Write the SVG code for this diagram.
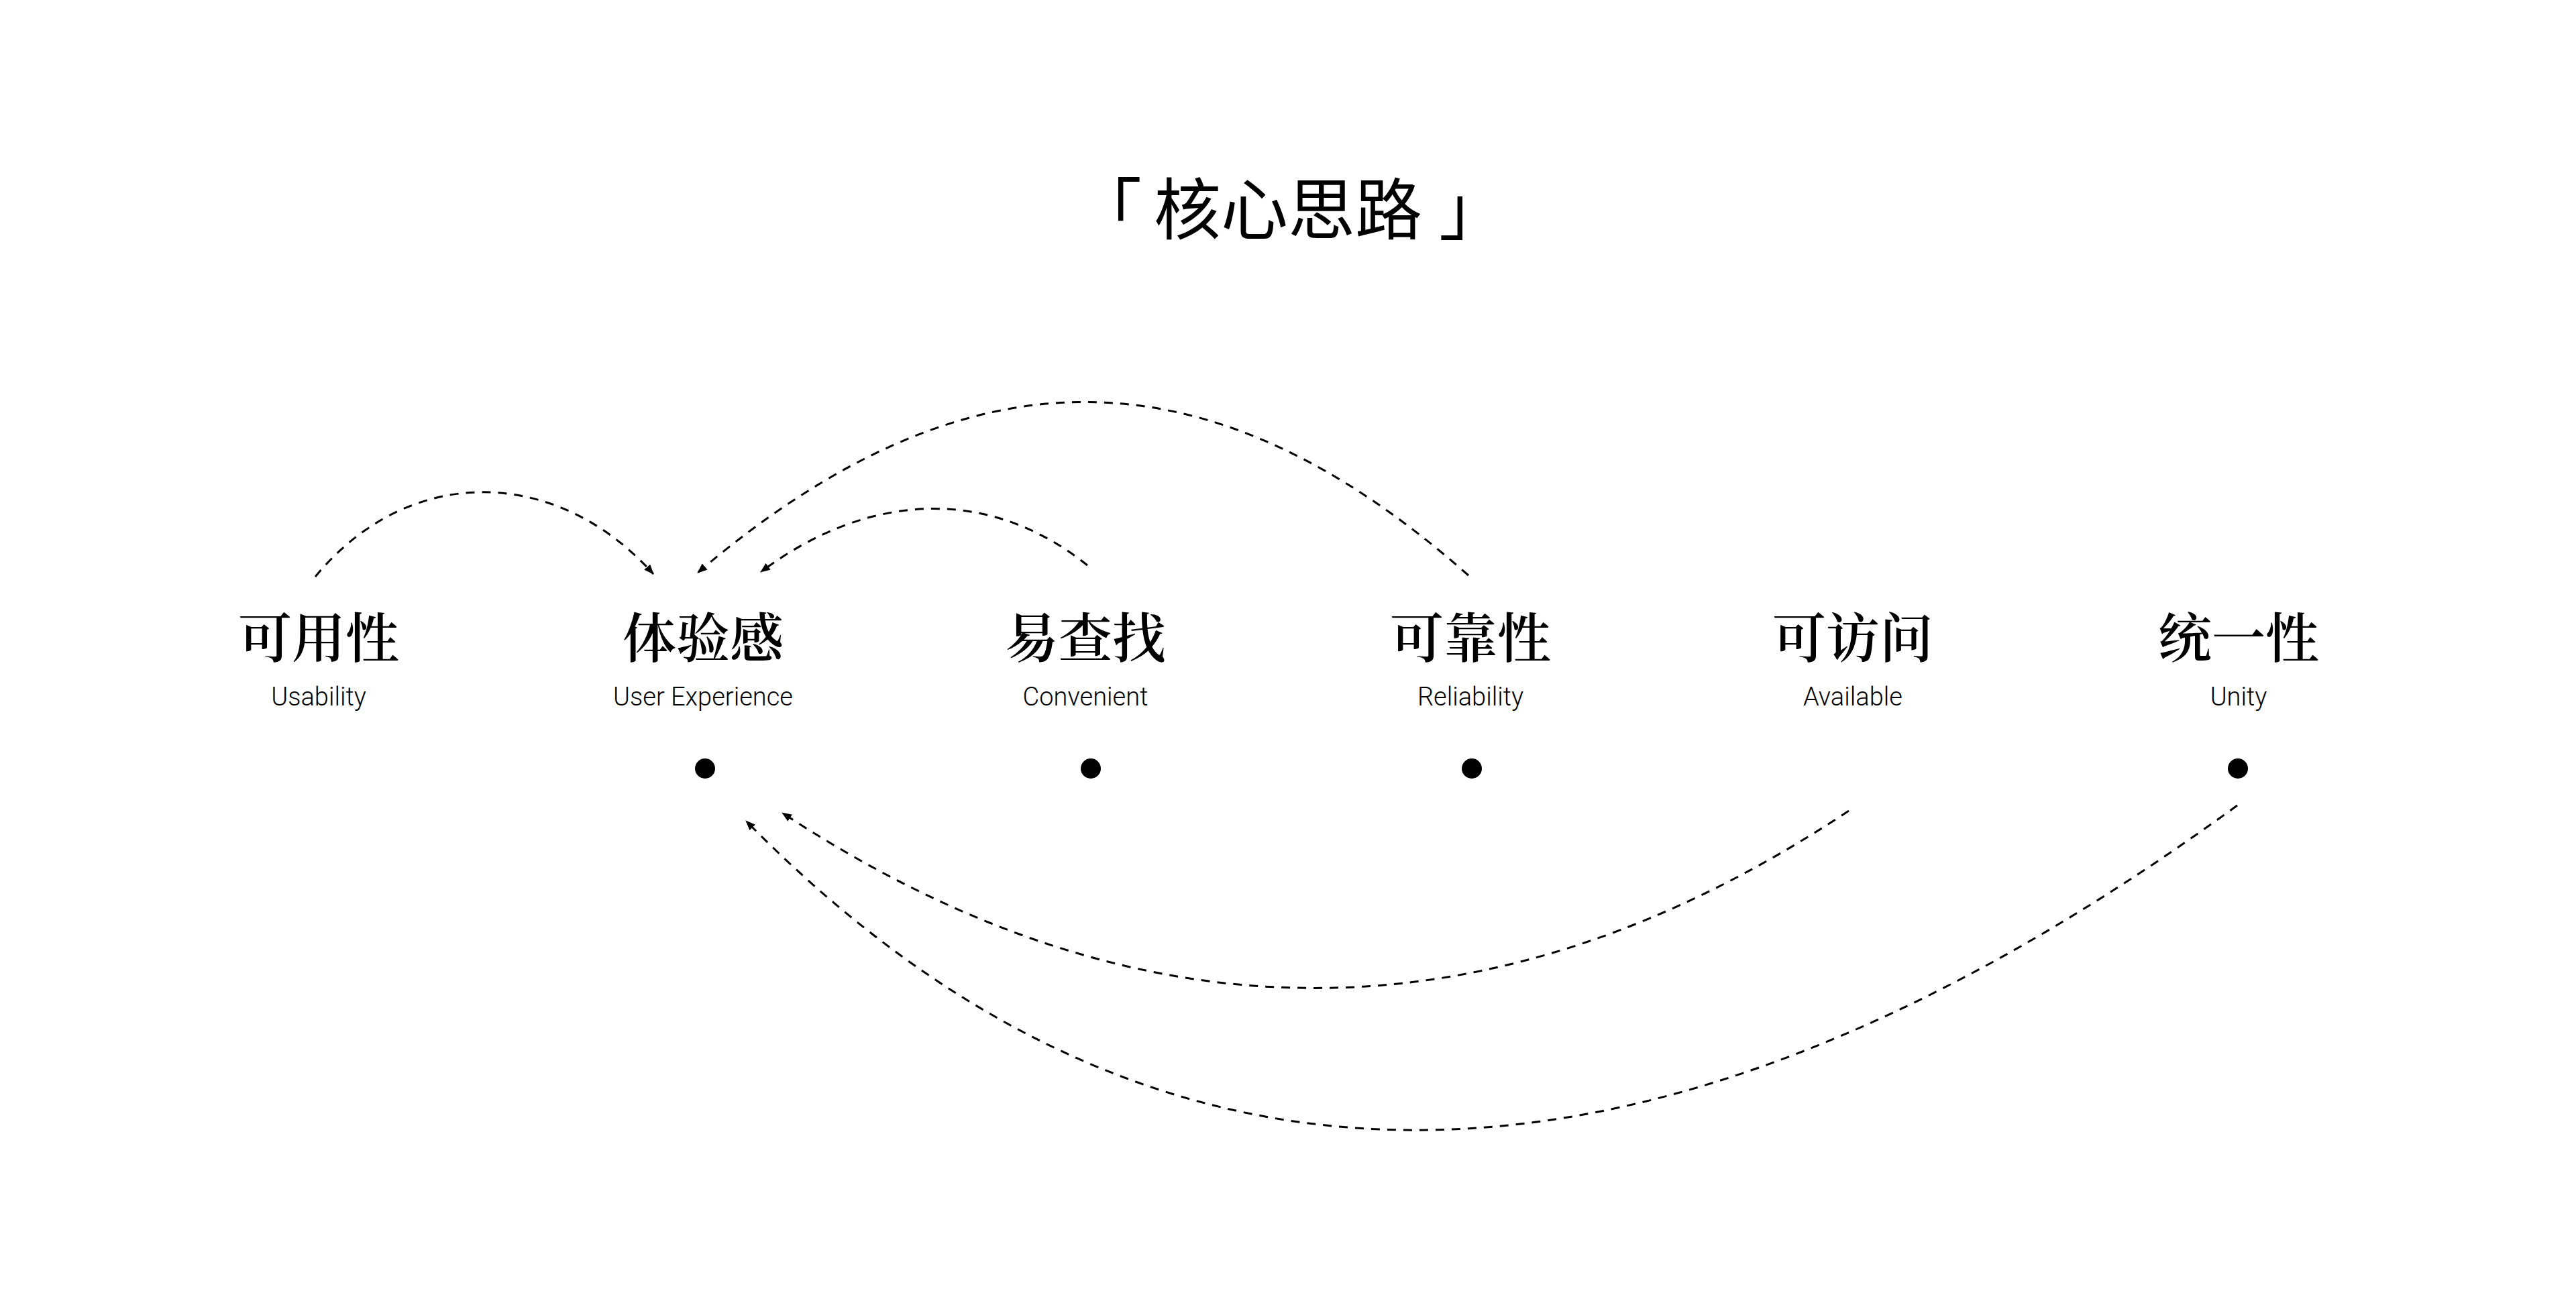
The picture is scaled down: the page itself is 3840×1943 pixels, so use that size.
<svg xmlns="http://www.w3.org/2000/svg" width="3840" height="1943" viewBox="0 0 3840 1943">
  <style>
    .title { font-family: "Noto Sans CJK SC", "Noto Sans CJK JP", sans-serif; font-size: 100px; fill: #000; }
    .zh { font-family: "Noto Serif CJK SC", "Source Han Serif SC", "Noto Sans CJK SC", serif; font-size: 80px; font-weight: 600; fill: #000; text-anchor: middle; }
    .en { font-family: Roboto, "Liberation Sans", sans-serif; font-size: 38px; font-weight: 300; fill: #000; text-anchor: middle; }
    .dot { fill: #000; }
    .link { fill: none; stroke: #000; stroke-width: 3; stroke-dasharray: 13 11; marker-end: url(#arrow); }
  </style>
  <defs>
    <marker id="arrow" markerUnits="userSpaceOnUse" markerWidth="16" markerHeight="12" refX="14" refY="6" orient="auto">
      <path d="M0,0 L15,6 L0,12 Z" fill="#000"/>
    </marker>
  </defs>
  <rect width="3840" height="1943" fill="#fff"/>

  <g id="title">
    <text class="title" y="349"><tspan x="1602">「</tspan><tspan x="1720">核心思路</tspan><tspan x="2145">」</tspan></text>
  </g>

  <g id="node-usability">
    <text class="zh" x="475" y="980">可用性</text>
    <text class="en" x="475" y="1052">Usability</text>
  </g>
  <g id="node-ux">
    <text class="zh" x="1048" y="980">体验感</text>
    <text class="en" x="1048" y="1052">User Experience</text>
    <circle class="dot" cx="1051" cy="1146" r="15"/>
  </g>
  <g id="node-convenient">
    <text class="zh" x="1618" y="980">易查找</text>
    <text class="en" x="1618" y="1052">Convenient</text>
    <circle class="dot" cx="1626" cy="1146" r="15"/>
  </g>
  <g id="node-reliability">
    <text class="zh" x="2192" y="980">可靠性</text>
    <text class="en" x="2192" y="1052">Reliability</text>
    <circle class="dot" cx="2194" cy="1146" r="15"/>
  </g>
  <g id="node-available">
    <text class="zh" x="2762" y="980">可访问</text>
    <text class="en" x="2762" y="1052">Available</text>
  </g>
  <g id="node-unity">
    <text class="zh" x="3337" y="980">统一性</text>
    <text class="en" x="3337" y="1052">Unity</text>
    <circle class="dot" cx="3336" cy="1146" r="15"/>
  </g>

  <g id="connectors">
    <path class="link" d="M470,860 C610,690 830,695 974,856"/>
    <path class="link" d="M2189,858 C1800,514 1440,514 1040,854"/>
    <path class="link" d="M1621,843 C1470,722 1290,736 1134,853"/>
    <path class="link" d="M2756,1209 C2226,1561 1696,1561 1166,1212"/>
    <path class="link" d="M3335,1201 C2470,1831 1730,1854 1112,1224"/>
  </g>
</svg>
